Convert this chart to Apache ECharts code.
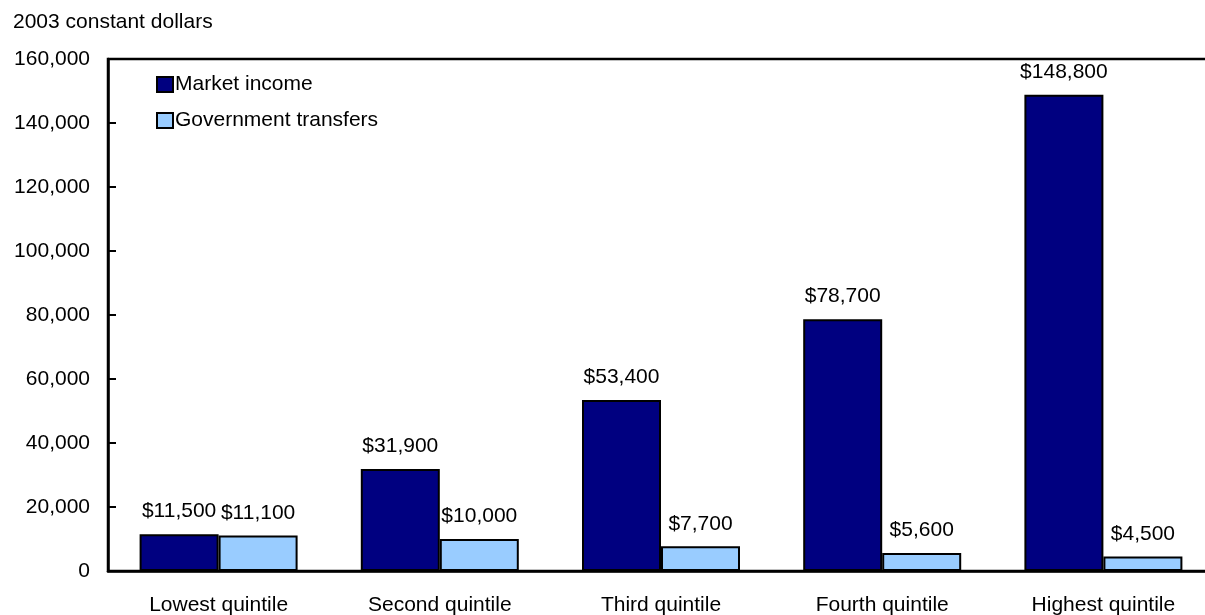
<!DOCTYPE html>
<html>
<head>
<meta charset="utf-8">
<script src="https://cdn.jsdelivr.net/npm/echarts@6/dist/echarts.min.js"></script>
<style>
  html, body { margin: 0; padding: 0; background: #fff; }
  #chart { width: 1205px; height: 615px; }
</style>
</head>
<body>
<div id="chart"></div>
<script>
// Average household income by quintile, 2003 constant dollars
const categories = ['Lowest quintile', 'Second quintile', 'Third quintile', 'Fourth quintile', 'Highest quintile'];
const marketIncome = [11500, 31900, 53400, 78700, 148800];
const governmentTransfers = [11100, 10000, 7700, 5600, 4500];
const yTicks = [0, 20000, 40000, 60000, 80000, 100000, 120000, 140000, 160000];

const FONT = 'Liberation Sans, Arial, Helvetica, sans-serif';
const FS = 21;
const chart = echarts.init(document.getElementById('chart'), null, { renderer: 'canvas' });

const money = v => '$' + v.value.toLocaleString('en-US');

chart.setOption({
  animation: false,
  backgroundColor: '#ffffff',
  textStyle: { fontFamily: FONT },
  title: {
    text: '2003 constant dollars',
    left: 13, top: 12, padding: 0,
    textStyle: { fontFamily: FONT, fontSize: FS, fontWeight: 'normal', color: '#000' }
  },
  legend: {
    left: 156, top: 74, padding: 0,
    orient: 'vertical',
    align: 'left',
    itemGap: 15,
    itemWidth: 16, itemHeight: 15,
    icon: 'rect',
    textStyle: { fontFamily: FONT, fontSize: FS, color: '#000', padding: [0, 0, 0, -3] },
    data: ['Market income', 'Government transfers']
  },
  grid: {
    left: 108, top: 59, bottom: 44, width: 1106,
    outerBoundsMode: 'none',
    containLabel: false,
    show: true, borderColor: '#000', borderWidth: 2.5, backgroundColor: 'transparent'
  },
  xAxis: {
    type: 'category',
    data: categories,
    axisLine: { lineStyle: { color: '#000', width: 2.5 } },
    axisTick: { inside: true, length: 8, lineStyle: { color: '#000', width: 2 } },
    axisLabel: { color: '#000', fontSize: FS, fontFamily: FONT, margin: 24 }
  },
  yAxis: {
    type: 'value',
    min: yTicks[0], max: yTicks[yTicks.length - 1], interval: 20000,
    splitLine: { show: false },
    axisLine: { show: true, lineStyle: { color: '#000', width: 2.5 } },
    axisTick: { show: true, inside: true, length: 8, lineStyle: { color: '#000', width: 2 } },
    axisLabel: {
      color: '#000', fontSize: FS, fontFamily: FONT, margin: 18,
      formatter: v => v.toLocaleString('en-US')
    }
  },
  series: [
    {
      name: 'Market income',
      type: 'bar',
      data: marketIncome,
      barWidth: 79,
      barGap: '0%',
      itemStyle: { color: '#000080', borderColor: '#000', borderWidth: 2 },
      label: { show: true, position: 'top', distance: 12, color: '#000', fontSize: FS, fontFamily: FONT, formatter: money }
    },
    {
      name: 'Government transfers',
      type: 'bar',
      data: governmentTransfers,
      barWidth: 79,
      barGap: '0%',
      itemStyle: { color: '#99CCFF', borderColor: '#000', borderWidth: 2 },
      label: { show: true, position: 'top', distance: 12, color: '#000', fontSize: FS, fontFamily: FONT, formatter: money }
    }
  ]
});
</script>
</body>
</html>
